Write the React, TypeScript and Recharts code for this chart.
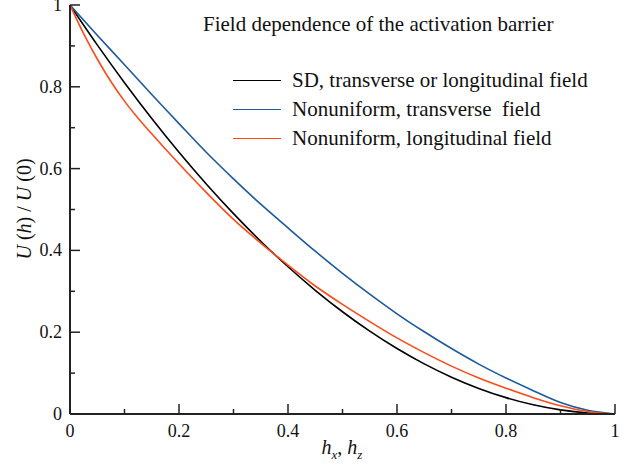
import React from 'react';
import { LineChart, Line, XAxis, YAxis, Legend } from 'recharts';

// field values h and the barrier ratios
const hValues = [0, 0.05, 0.1, 0.15, 0.2, 0.25, 0.3, 0.35, 0.4, 0.45, 0.5, 0.55, 0.6, 0.65, 0.7, 0.75, 0.8, 0.85, 0.9, 0.95, 1];
const sdValues = [1, 0.9025, 0.81, 0.7225, 0.64, 0.5625, 0.49, 0.4225, 0.36, 0.3025, 0.25, 0.2025, 0.16, 0.1225, 0.09, 0.0625, 0.04, 0.0225, 0.01, 0.0025, 0];
const transverseValues = [1, 0.926, 0.854, 0.781, 0.71, 0.64, 0.575, 0.513, 0.455, 0.398, 0.344, 0.293, 0.245, 0.201, 0.16, 0.122, 0.088, 0.057, 0.028, 0.009, 0];
const longitudinalH = [0, 0.025, 0.05, 0.075, 0.1, 0.125, 0.15, 0.175, 0.2, 0.25, 0.3, 0.35, 0.4, 0.45, 0.5, 0.55, 0.6, 0.65, 0.7, 0.75, 0.8, 0.85, 0.9, 0.95, 1];
const longitudinalValues = [1, 0.93, 0.868, 0.813, 0.765, 0.723, 0.685, 0.648, 0.612, 0.542, 0.476, 0.418, 0.364, 0.313, 0.268, 0.226, 0.186, 0.15, 0.117, 0.088, 0.063, 0.04, 0.02, 0.006, 0];

const tickValues = [0, 0.1, 0.2, 0.3, 0.4, 0.5, 0.6, 0.7, 0.8, 0.9, 1];

const seriesNames = ['SD, transverse or longitudinal field', 'Nonuniform, transverse  field', 'Nonuniform, longitudinal field'];

const sdData = hValues.map((h, i) => ({ h, u: sdValues[i] }));
const transverseData = hValues.map((h, i) => ({ h, u: transverseValues[i] }));
const longitudinalData = longitudinalH.map((h, i) => ({ h, u: longitudinalValues[i] }));

const AXIS = '#222';
const FONT = '"Liberation Serif", "Times New Roman", serif';
const labelStyle = { fontFamily: FONT, fontSize: 18, fill: '#111' };

const isMajor = (v: number) => Math.round(v * 10) % 2 === 0;
const fmt = (v: number) => String(Math.round(v * 10) / 10);

// ticks drawn inward, labels outside
const BottomTick = ({ x, y, payload }: any) => {
  const major = isMajor(payload.value);
  return (
    <g>
      <line x1={x} x2={x} y1={y} y2={y - (major ? 10 : 5)} stroke={AXIS} strokeWidth={1.5} />
      {major && (
        <text x={x} y={y + 23} textAnchor="middle" style={labelStyle}>
          {fmt(payload.value)}
        </text>
      )}
    </g>
  );
};

const TopTick = ({ x, y, payload }: any) => {
  const major = isMajor(payload.value);
  return <line x1={x} x2={x} y1={y} y2={y + (major ? 10 : 5)} stroke={AXIS} strokeWidth={1.5} />;
};

const LeftTick = ({ x, y, payload }: any) => {
  const major = isMajor(payload.value);
  return (
    <g>
      <line x1={x} x2={x + (major ? 10 : 5)} y1={y} y2={y} stroke={AXIS} strokeWidth={1.5} />
      {major && (
        <text x={x - 8} y={y + 6} textAnchor="end" style={labelStyle}>
          {fmt(payload.value)}
        </text>
      )}
    </g>
  );
};

const RightTick = ({ x, y, payload }: any) => {
  const major = isMajor(payload.value);
  return <line x1={x} x2={x - (major ? 10 : 5)} y1={y} y2={y} stroke={AXIS} strokeWidth={1.5} />;
};

const LegendBox = ({ payload }: any) => {
  const items = [...(payload || [])].sort((a: any, b: any) => seriesNames.indexOf(a.value) - seriesNames.indexOf(b.value));
  return (
    <div style={{ fontFamily: FONT }}>
      {items.map((entry: any) => (
        <div key={entry.value} style={{ display: 'flex', alignItems: 'center', height: 29 }}>
          <span style={{ display: 'inline-block', width: 48, borderTop: `1.5px solid ${entry.color}`, marginRight: 11 }} />
          <span style={{ fontSize: 21, color: '#111', whiteSpace: 'pre' }}>{entry.value}</span>
        </div>
      ))}
    </div>
  );
};

export default function App() {
  return (
    <div style={{ position: 'absolute', left: 0, top: 0, width: 644, height: 468, background: '#fff', fontFamily: FONT }}>
      <LineChart width={644} height={468} margin={{ top: 5, right: 29, bottom: 0, left: 0 }}>
        <XAxis
          dataKey="h"
          type="number"
          domain={[0, 1]}
          ticks={tickValues}
          interval={0}
          height={54}
          tickSize={0}
          tickMargin={0}
          tickLine={false}
          tick={<BottomTick />}
          axisLine={{ stroke: AXIS, strokeWidth: 2 }}
          allowDataOverflow
        />
        <XAxis
          xAxisId="top"
          orientation="top"
          dataKey="h"
          type="number"
          domain={[0, 1]}
          ticks={tickValues}
          interval={0}
          height={0}
          tickSize={0}
          tickMargin={0}
          tickLine={false}
          tick={<TopTick />}
          axisLine={{ stroke: AXIS, strokeWidth: 2 }}
        />
        <YAxis
          type="number"
          domain={[0, 1]}
          ticks={tickValues}
          interval={0}
          width={70}
          tickSize={0}
          tickMargin={0}
          tickLine={false}
          tick={<LeftTick />}
          axisLine={{ stroke: AXIS, strokeWidth: 2 }}
          allowDataOverflow
        />
        <YAxis
          yAxisId="right"
          orientation="right"
          type="number"
          domain={[0, 1]}
          ticks={tickValues}
          interval={0}
          width={0}
          tickSize={0}
          tickMargin={0}
          tickLine={false}
          tick={<RightTick />}
          axisLine={{ stroke: AXIS, strokeWidth: 2 }}
        />
        <Legend
          layout="vertical"
          align="center"
          verticalAlign="middle"
          content={<LegendBox />}
          wrapperStyle={{ top: 65.5, left: 233, width: 390 }}
        />
        <Line
          data={sdData}
          dataKey="u"
          name={seriesNames[0]}
          type="monotone"
          stroke="#000"
          strokeWidth={1.6}
          dot={false}
          isAnimationActive={false}
        />
        <Line
          data={transverseData}
          dataKey="u"
          name={seriesNames[1]}
          type="monotone"
          stroke="#1c5a9c"
          strokeWidth={1.6}
          dot={false}
          isAnimationActive={false}
        />
        <Line
          data={longitudinalData}
          dataKey="u"
          name={seriesNames[2]}
          type="monotone"
          stroke="#fb4b1a"
          strokeWidth={1.6}
          dot={false}
          isAnimationActive={false}
        />
      </LineChart>

      <div style={{ position: 'absolute', left: 203, top: 13.5, fontSize: 21, lineHeight: '21px', color: '#111', whiteSpace: 'pre' }}>
        Field dependence of the activation barrier
      </div>

      <div
        style={{
          position: 'absolute',
          left: 24,
          top: 209,
          transform: 'translate(-50%, -50%) rotate(-90deg)',
          fontSize: 20,
          lineHeight: '20px',
          color: '#111',
          whiteSpace: 'pre',
        }}
      >
        <i>U</i> (<i>h</i>) / <i>U</i> (0)
      </div>

      <div
        style={{
          position: 'absolute',
          left: 342,
          top: 437,
          transform: 'translateX(-50%)',
          fontSize: 20,
          lineHeight: '20px',
          color: '#111',
          whiteSpace: 'pre',
        }}
      >
        <i>h</i>
        <sub style={{ fontSize: 13, fontStyle: 'italic' }}>x</sub>, <i>h</i>
        <sub style={{ fontSize: 13, fontStyle: 'italic' }}>z</sub>
      </div>
    </div>
  );
}
